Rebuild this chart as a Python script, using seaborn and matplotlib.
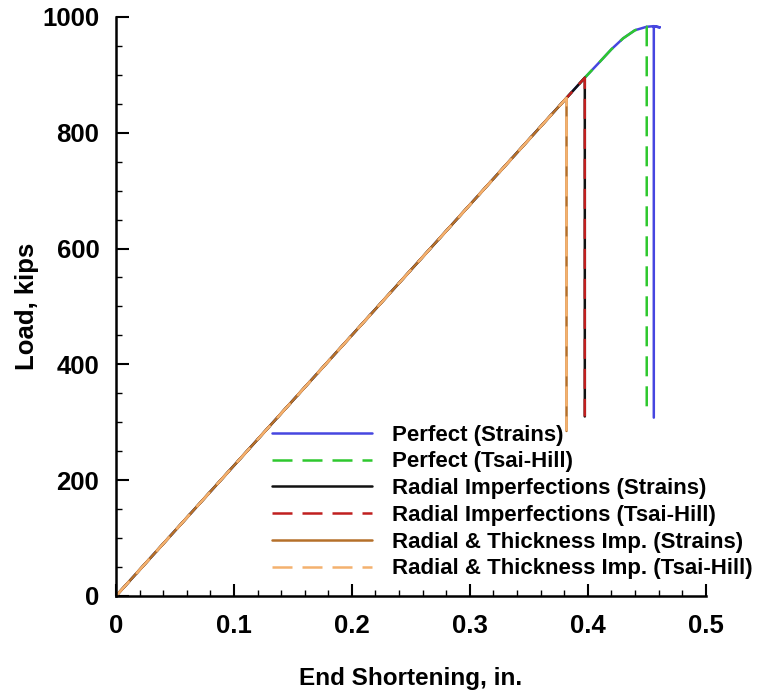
import numpy as np
import pandas as pd
import matplotlib
matplotlib.use("Agg")
import matplotlib.pyplot as plt
from matplotlib.ticker import MultipleLocator
import seaborn as sns

# load vs end shortening
perfect_x = [0, 0.3975, 0.41, 0.42, 0.43, 0.44, 0.45, 0.456, 0.461, 0.456, 0.456]
perfect_y = [0, 895, 922, 944, 963, 977, 983, 984, 982, 984, 308]
perfect_th_x = [0, 0.3975, 0.41, 0.42, 0.43, 0.44, 0.45, 0.45]
perfect_th_y = [0, 895, 922, 944, 963, 977, 983, 315]
radial_x = [0, 0.3975, 0.3975]
radial_y = [0, 895, 310]
radial_th_x = [0, 0.3975, 0.3975]
radial_th_y = [0, 895, 310]
rad_thick_x = [0, 0.382, 0.382]
rad_thick_y = [0, 860, 285]
rad_thick_th_x = [0, 0.382, 0.382]
rad_thick_th_y = [0, 860, 285]

labels = ["Perfect (Strains)", "Perfect (Tsai-Hill)",
          "Radial Imperfections (Strains)", "Radial Imperfections (Tsai-Hill)",
          "Radial & Thickness Imp. (Strains)", "Radial & Thickness Imp. (Tsai-Hill)"]
colors = ["#4646e0", "#2ec82e", "#111111", "#c01f1f", "#b5702a", "#f4b16e"]
dashed = [False, True, False, True, False, True]

series = [(perfect_x, perfect_y), (perfect_th_x, perfect_th_y),
          (radial_x, radial_y), (radial_th_x, radial_th_y),
          (rad_thick_x, rad_thick_y), (rad_thick_th_x, rad_thick_th_y)]

sns.set_theme(style="ticks")
plt.rcParams["font.family"] = ["Liberation Sans", "DejaVu Sans"]
plt.rcParams["font.weight"] = "bold"
plt.rcParams["text.color"] = "black"
plt.rcParams["axes.labelcolor"] = "black"
plt.rcParams["xtick.color"] = "black"
plt.rcParams["ytick.color"] = "black"

fig = plt.figure(figsize=(7.58, 6.96), dpi=100)
ax = fig.add_axes([0.153, 0.1437, 0.778, 0.832])

for (xs, ys), lab, c, d in zip(series, labels, colors, dashed):
    df = pd.DataFrame({"x": xs, "y": ys})
    sns.lineplot(data=df, x="x", y="y", sort=False, estimator=None,
                 color=c, lw=1.8, label=lab, ax=ax)
    if d:
        ax.lines[-1].set_dashes((8, 4))

ax.set_xlim(0, 0.5)
ax.set_ylim(0, 1000)
ax.xaxis.set_minor_locator(MultipleLocator(0.02))
ax.yaxis.set_major_locator(MultipleLocator(200))
ax.yaxis.set_minor_locator(MultipleLocator(50))
ax.set_xticks([0, 0.1, 0.2, 0.3, 0.4, 0.5], ["0", "0.1", "0.2", "0.3", "0.4", "0.5"])
ax.tick_params(which="major", direction="in", length=9, width=1.5, labelsize=18.5)
ax.tick_params(which="minor", direction="in", length=4.5, width=1)
ax.tick_params(axis="x", which="major", pad=13)
ax.tick_params(axis="y", which="major", pad=12)
for lab in ax.get_xticklabels() + ax.get_yticklabels():
    lab.set_fontweight("bold")

sns.despine(ax=ax)
for sp in ["left", "bottom"]:
    ax.spines[sp].set_linewidth(1.8)
    ax.spines[sp].set_color("black")

ax.set_xlabel("End Shortening, in.", fontsize=17.5, fontweight="bold", labelpad=21)
ax.set_ylabel("Load, kips", fontsize=18.5, fontweight="bold", labelpad=2)

ax.legend(loc="upper left", bbox_to_anchor=(0.264, 0.296), frameon=False,
          prop={"size": 16, "weight": "bold"}, handlelength=4.5, handletextpad=0.9,
          labelspacing=0.26, borderpad=0, borderaxespad=0)

fig.savefig("out.png", dpi=100)
